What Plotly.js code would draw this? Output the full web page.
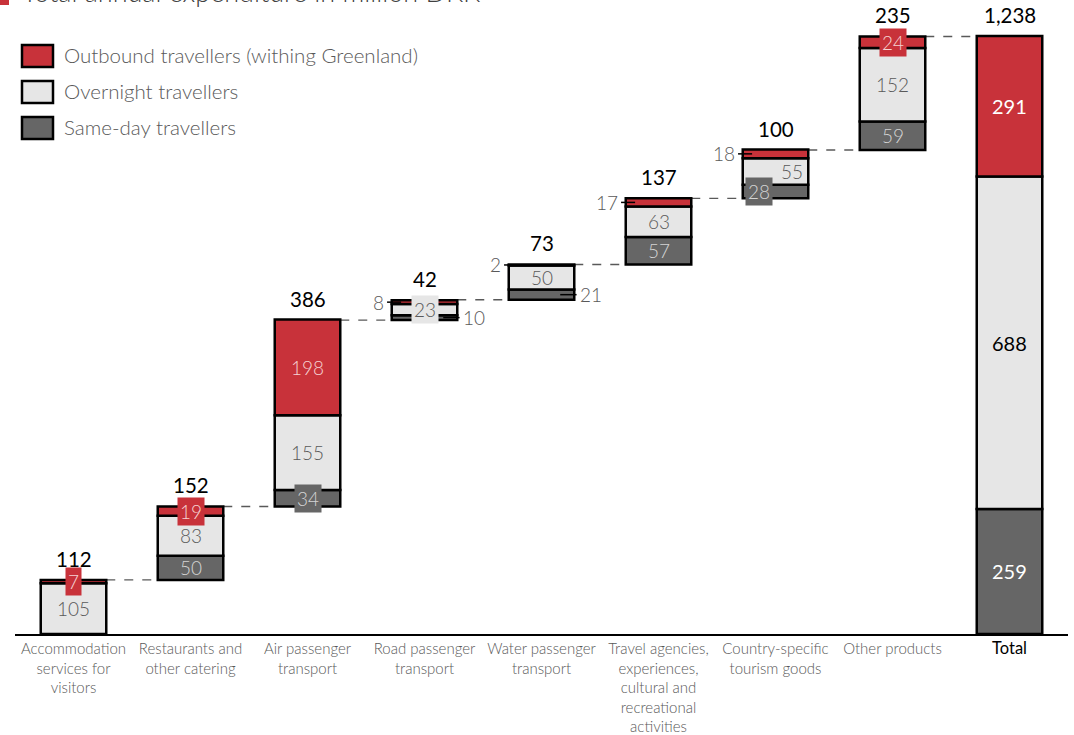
<!DOCTYPE html>
<html>
<head>
<meta charset="utf-8">
<script src="https://cdn.plot.ly/plotly-3.0.1.min.js"></script>
<style>
  html, body { margin: 0; padding: 0; background: #ffffff; }
  #chart { width: 1074px; height: 735px; }
</style>
</head>
<body>
<div id="chart"></div>
<script>
// Tourism expenditure by product, million DKK
const categories = [
  "Accommodation<br>services for<br>visitors",
  "Restaurants and<br>other catering",
  "Air passenger<br>transport",
  "Road passenger<br>transport",
  "Water passenger<br>transport",
  "Travel agencies,<br>experiences,<br>cultural and<br>recreational<br>activities",
  "Country-specific<br>tourism goods",
  "Other products",
  "Total"
];
const sameDay   = [0, 50, 34, 10, 21, 57, 28, 59, 259];
const overnight = [105, 83, 155, 23, 50, 63, 55, 152, 688];
const outbound  = [7, 19, 198, 8, 2, 17, 18, 24, 291];
const totals    = [112, 152, 386, 42, 73, 137, 100, 235, 1238];
const seriesNames = ["Outbound travellers (withing Greenland)", "Overnight travellers", "Same-day travellers"];

// Label placement per segment: in, box, left, right, inR (inside, shifted right), boxL (box, shifted left), none
const outboundPlace  = ["box", "box", "in", "left", "left", "left", "left", "box", "in"];
const overnightPlace = ["in", "in", "in", "box", "in", "in", "inR", "in", "in"];
const sameDayPlace   = ["none", "in", "box", "right", "right", "in", "boxL", "in", "in"];

const RED = "#C8323A", LIGHT = "#E6E6E6", DARK = "#666666";
const FONT = "Lato, 'Open Sans', sans-serif";
const GREY_TXT = "#595959";

const n = categories.length;
const x = categories.map((_, i) => i);
const totalIdx = n - 1;

// Waterfall bases: each product starts where the previous one ended; the total starts at zero
const start = [];
let acc = 0;
for (let i = 0; i < n; i++) {
  if (i === totalIdx) { start.push(0); } else { start.push(acc); acc += totals[i]; }
}
const baseSD = start;
const baseON = start.map((s, i) => s + sameDay[i]);
const baseOUT = start.map((s, i) => s + sameDay[i] + overnight[i]);

const BW = 0.56;
function barTrace(name, vals, base, color) {
  return {
    type: "bar", name: name, x: x, y: vals, base: base, width: BW,
    marker: { color: color, line: { color: "#000000", width: 2.5 } },
    hoverinfo: "skip", showlegend: false
  };
}
const data = [
  barTrace(seriesNames[2], sameDay, baseSD, DARK),
  barTrace(seriesNames[1], overnight, baseON, LIGHT),
  barTrace(seriesNames[0], outbound, baseOUT, RED)
];

const annotations = [];
const shapes = [];

function segLabels(vals, base, place, fill, txtCol, totalCol) {
  vals.forEach((v, i) => {
    const p = place[i];
    if (p === "none") return;
    const yc = base[i] + v / 2;
    const isTot = i === totalIdx;
    const font = { family: FONT, size: isTot ? 20 : 19, color: isTot ? totalCol : txtCol, weight: isTot ? 400 : 300 };
    const a = { x: i, y: yc, xref: "x", yref: "y", text: String(v), showarrow: false, font: font, xanchor: "center", yanchor: "middle" };
    if (p === "box" || p === "boxL") {
      a.bgcolor = fill; a.borderpad = 2;
      if (p === "boxL") a.x = i - 0.14;
    } else if (p === "inR") {
      a.x = i + 0.14;
    } else if (p === "left") {
      a.x = i - 0.33; a.xanchor = "right"; a.font = Object.assign({}, font, { color: GREY_TXT });
      shapes.push({ type: "line", xref: "x", yref: "y", x0: i - 0.32, x1: i - 0.2, y0: yc, y1: yc, line: { color: "#000", width: 1.5 } });
    } else if (p === "right") {
      a.x = i + 0.31; a.xanchor = "left"; a.font = Object.assign({}, font, { color: GREY_TXT });
      shapes.push({ type: "line", xref: "x", yref: "y", x0: i + 0.16, x1: i + 0.3, y0: yc, y1: yc, line: { color: "#000", width: 1.5 } });
    }
    annotations.push(a);
  });
}
segLabels(sameDay, baseSD, sameDayPlace, DARK, "#D4D4D4", "#FFFFFF");
segLabels(overnight, baseON, overnightPlace, LIGHT, GREY_TXT, "#000000");
segLabels(outbound, baseOUT, outboundPlace, RED, "#F6D3D4", "#FFFFFF");

// Totals above each column and dashed connectors between columns
totals.forEach((t, i) => {
  const top = i === totalIdx ? t : start[i] + t;
  annotations.push({
    x: i, y: top, xref: "x", yref: "y", yshift: 21, showarrow: false,
    text: t.toLocaleString("en-US"), xanchor: "center", yanchor: "middle",
    font: { family: FONT, size: 20.5, color: "#000000", weight: 400 }
  });
  if (i < totalIdx) {
    shapes.push({
      type: "line", xref: "x", yref: "y", x0: i + BW / 2, x1: i + 1 - BW / 2, y0: top, y1: top,
      line: { color: "#595959", width: 1.3, dash: "dash" }, layer: "below"
    });
  }
});

// Layout in pixels: plot area spans x 15..1068, y 20..634
const L = 15, W = 1053, T = 20, H = 614;
const px = v => (v - L) / W;
const py = v => (T + H - v) / H;

// Legend
const legendColors = [RED, LIGHT, DARK];
const legendRows = [56, 92, 128];
seriesNames.forEach((name, k) => {
  const yc = legendRows[k];
  shapes.push({
    type: "rect", xref: "paper", yref: "paper",
    x0: px(22), x1: px(53), y0: py(yc - 11), y1: py(yc + 11),
    fillcolor: legendColors[k], line: { color: "#000000", width: 2.5 }
  });
  annotations.push({
    xref: "paper", yref: "paper", x: px(62), y: py(yc - 1), xanchor: "left", yanchor: "middle",
    showarrow: false, text: name, font: { family: FONT, size: 20.5, color: GREY_TXT, weight: 300 }
  });
});

// Heading
shapes.push({ type: "rect", xref: "paper", yref: "paper", x0: px(0), x1: px(9), y0: py(5), y1: py(-10), fillcolor: RED, line: { width: 0 } });
annotations.push({
  xref: "paper", yref: "paper", x: px(20), y: py(-8), xanchor: "left", yanchor: "middle",
  showarrow: false, text: "Total annual expenditure in million DKK",
  font: { family: FONT, size: 27, color: "#404040", weight: 300 }
});

const tickText = categories.map((c, i) => i === totalIdx
  ? "<span style='fill:#000000;font-weight:400;font-size:16.5px'>" + c + "</span>" : c);

const layout = {
  width: 1074, height: 735,
  margin: { l: L, r: 1074 - L - W, t: T, b: 735 - T - H, pad: 0 },
  paper_bgcolor: "#ffffff", plot_bgcolor: "#ffffff",
  barmode: "overlay", showlegend: false,
  font: { family: FONT, color: GREY_TXT, weight: 300 },
  xaxis: {
    range: [-0.5, n - 0.5], tickvals: x, ticktext: tickText,
    showline: true, linecolor: "#000000", linewidth: 2, ticks: "", showgrid: false, zeroline: false,
    tickfont: { family: FONT, size: 15, color: GREY_TXT, weight: 300 }, fixedrange: true
  },
  yaxis: { range: [0, H / (598 / 1238)], visible: false, showgrid: false, zeroline: false, fixedrange: true },
  shapes: shapes, annotations: annotations
};

Plotly.newPlot("chart", data, layout, { displayModeBar: false, staticPlot: true });
</script>
</body>
</html>
